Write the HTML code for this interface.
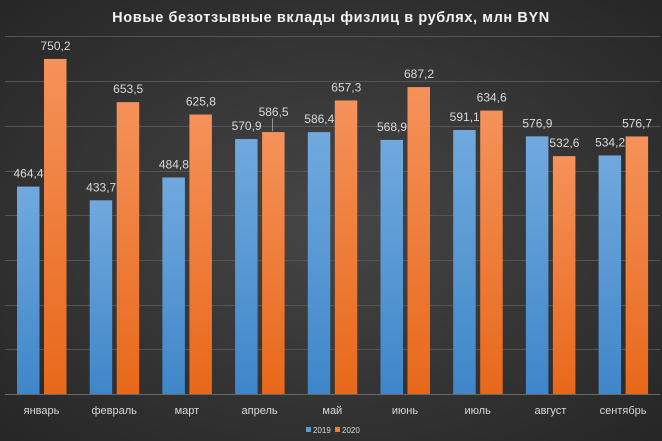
<!DOCTYPE html>
<html><head><meta charset="utf-8"><style>
html,body{margin:0;padding:0;width:662px;height:441px;overflow:hidden}
svg{display:block;font-family:"Liberation Sans",sans-serif}
</style></head><body>
<svg width="662" height="441" viewBox="0 0 662 441">
<defs>
<radialGradient id="bg" cx="50%" cy="50%" r="70%">
<stop offset="0" stop-color="#464646"/><stop offset="1" stop-color="#262626"/>
</radialGradient>
<linearGradient id="gb" x1="0" y1="0" x2="0" y2="1"><stop offset="0" stop-color="#70a9de"/><stop offset="1" stop-color="#3f86c9"/></linearGradient>
<linearGradient id="go" x1="0" y1="0" x2="0" y2="1"><stop offset="0" stop-color="#f5925a"/><stop offset="1" stop-color="#e8681a"/></linearGradient>
</defs>
<rect width="662" height="441" fill="url(#bg)"/>
<text x="331" y="22" text-anchor="middle" fill="#f2f2f2" font-size="14.5" font-weight="bold" letter-spacing="0.6">Новые безотзывные вклады физлиц в рублях, млн BYN</text>
<g stroke="#555" stroke-width="1">
<line x1="5" x2="660" y1="36.5" y2="36.5"/><line x1="5" x2="660" y1="81.5" y2="81.5"/><line x1="5" x2="660" y1="126.5" y2="126.5"/><line x1="5" x2="660" y1="171.5" y2="171.5"/><line x1="5" x2="660" y1="215.5" y2="215.5"/><line x1="5" x2="660" y1="260.5" y2="260.5"/><line x1="5" x2="660" y1="305.5" y2="305.5"/><line x1="5" x2="660" y1="349.5" y2="349.5"/>
</g>
<g id="bars"></g>
<line x1="5" x2="660" y1="394.5" y2="394.5" stroke="#6a6a6a"/>
<g font-size="12" fill="#d9d9d9" text-anchor="middle" id="lbl"></g>
<rect x="306" y="427" width="5" height="5" fill="#5b9bd5"/>
<text x="313" y="433" font-size="8" fill="#d9d9d9">2019</text>
<rect x="335" y="427" width="5" height="5" fill="#ed7d31"/>
<text x="342" y="433" font-size="8" fill="#d9d9d9">2020</text>
<script>
var m=["январь","февраль","март","апрель","май","июнь","июль","август","сентябрь"];
var a=[464.4,433.7,484.8,570.9,586.4,568.9,591.1,576.9,534.2];
var b=[750.2,653.5,625.8,586.5,657.3,687.2,634.6,532.6,576.7];
var s=0.4466,base=394,ns="http://www.w3.org/2000/svg",g=document.getElementById("bars"),L=document.getElementById("lbl");
function el(t,at,p,txt){var e=document.createElementNS(ns,t);for(var k in at)e.setAttribute(k,at[k]);if(txt)e.textContent=txt;p.appendChild(e);return e;}
for(var i=0;i<9;i++){var c=41.5+i*72.7;
var ha=a[i]*s,hb=b[i]*s;
el("rect",{x:c-24.5,y:base-ha,width:22.5,height:ha,fill:"url(#gb)"},g);
el("rect",{x:c+2.5,y:base-hb,width:22.5,height:hb,fill:"url(#go)"},g);
var f=function(v){return v.toFixed(1).replace(".",",");};
el("text",{x:c-13,y:base-ha-9},L,f(a[i]));
var yb=base-hb-9;if(i==3){yb=base-hb-16;el("line",{x1:c+13,x2:c+13,y1:base-hb-14,y2:base-hb-1,stroke:"#aaa","stroke-width":0.8},L);}
el("text",{x:c+14,y:yb},L,f(b[i]));
el("text",{x:c,y:414,"font-size":"11"},L,m[i]);}
</script>
</svg>
</body></html>
